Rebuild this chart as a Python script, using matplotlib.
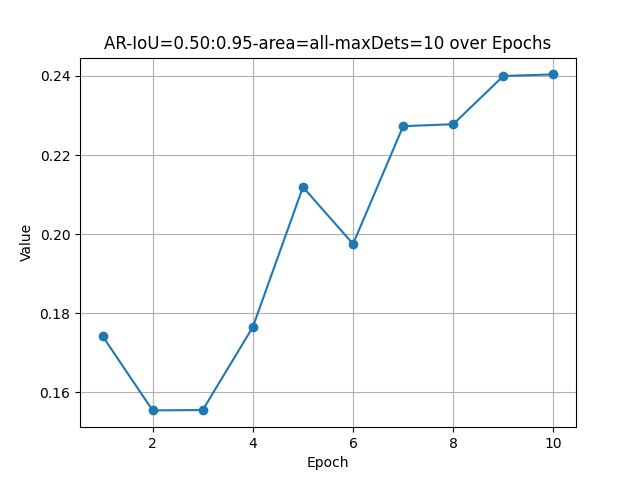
import matplotlib
matplotlib.use("Agg")
import matplotlib.pyplot as plt

# data
epochs = [1, 2, 3, 4, 5, 6, 7, 8, 9, 10]
values = [0.1742, 0.1554, 0.1555, 0.1765, 0.2119, 0.1975, 0.2273, 0.2278, 0.2400, 0.2404]

plt.figure(figsize=(6.4, 4.8), dpi=100)
plt.plot(epochs, values, marker='o')
plt.title("AR-IoU=0.50:0.95-area=all-maxDets=10 over Epochs")
plt.xlabel("Epoch")
plt.ylabel("Value")
plt.grid()
plt.savefig("out.png")
